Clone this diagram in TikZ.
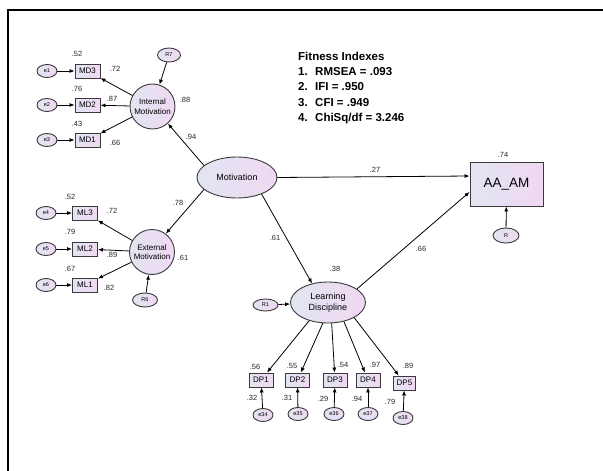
\documentclass[tikz,border=0pt]{standalone}
\usepackage{fontspec}
\setmainfont{Liberation Sans}
\usetikzlibrary{shapes.geometric,arrows.meta,calc}
\definecolor{lb}{HTML}{E2E5F2}
\definecolor{lp}{HTML}{F0D8F2}
\definecolor{bd}{HTML}{3A3A3A}
\begin{document}
\begin{tikzpicture}[x=1pt,y=-1pt,
 every node/.style={inner sep=0pt},
 obs/.style={draw=bd, line width=0.9pt, left color=lb, right color=lp, minimum width=25pt, minimum height=14pt, font=\fontsize{8}{9}\selectfont},
 err/.style={ellipse, draw=bd, line width=0.9pt, left color=lb, right color=lp, minimum width=20pt, minimum height=13pt, font=\fontsize{5.5}{6}\selectfont},
 lat/.style={circle, draw=bd, line width=0.9pt, left color=lb, right color=lp, minimum size=45pt, align=center, font=\fontsize{8}{9.5}\selectfont},
 latel/.style={ellipse, draw=bd, line width=0.9pt, left color=lb, right color=lp, align=center, font=\fontsize{9}{10.5}\selectfont},
 arr/.style={-{Latex[length=5pt,width=4pt]}, line width=0.8pt},
 lbl/.style={font=\fontsize{7.5}{8}\selectfont, text=black!85}
]
\useasboundingbox (0,0) rectangle (603,471);
\draw[line width=2.5pt] (8,471) -- (8,10) -- (603,10);

% fit indexes
\node[anchor=north west, align=left, font=\bfseries\fontsize{11.5}{15.2}\selectfont] (fit) at (298,52)
 {Fitness Indexes\\
 \makebox[17pt][l]{1.}RMSEA = .093\\
 \makebox[17pt][l]{2.}IFI = .950\\
 \makebox[17pt][l]{3.}CFI = .949\\
 \makebox[17pt][l]{4.}ChiSq/df = 3.246};

% latent variables
\node[lat] (IM) at (152.5,106.5) {Internal\\Motivation};
\node[lat] (EM) at (152,252) {External\\Motivation};
\node[latel, minimum width=80pt, minimum height=41pt] (Mot) at (237,177.5) {Motivation};
\node[latel, minimum width=75pt, minimum height=41pt] (LD) at (328,302.5) {Learning\\Discipline};
\node[draw=bd, line width=0.9pt, left color=lb, right color=lp, minimum width=73pt, minimum height=44pt, font=\fontsize{13.5}{15}\selectfont] (AA) at (506.5,184) {AA\_AM};

% residuals
\node[err, minimum width=23pt, minimum height=14pt] (R7) at (169,55) {R7};
\node[err, minimum width=25pt, minimum height=14pt] (R6) at (145,300) {R6};
\node[err, minimum width=25pt, minimum height=12pt] (R1) at (265.5,305) {R1};
\node[err, minimum width=26pt, minimum height=15pt] (R) at (506,235.5) {R};

% internal indicators
\node[obs] (MD3) at (87.5,71) {MD3};
\node[obs] (MD2) at (87.5,105) {MD2};
\node[obs] (MD1) at (87.5,140) {MD1};
\node[err] (e1) at (47,71) {e1};
\node[err] (e2) at (47,105) {e2};
\node[err] (e3) at (47,140) {e3};

% external indicators
\node[obs] (ML3) at (85,213) {ML3};
\node[obs] (ML2) at (85,249) {ML2};
\node[obs] (ML1) at (85,285) {ML1};
\node[err] (e4) at (46,213) {e4};
\node[err] (e5) at (46,249) {e5};
\node[err] (e6) at (46,285) {e6};

% discipline indicators
\node[obs, minimum width=24pt] (DP1) at (261,380) {DP1};
\node[obs, minimum width=24pt] (DP2) at (297.5,380) {DP2};
\node[obs, minimum width=24pt] (DP3) at (335,380) {DP3};
\node[obs, minimum width=24pt] (DP4) at (368,380) {DP4};
\node[obs, minimum width=22pt] (DP5) at (404.5,383) {DP5};
\node[err] (e34) at (263,415) {e34};
\node[err] (e35) at (298,414) {e35};
\node[err] (e36) at (334,414) {e36};
\node[err] (e37) at (368,414) {e37};
\node[err] (e38) at (403,418) {e38};

% arrows
\foreach \a/\b in {e1/MD3,e2/MD2,e3/MD1,e4/ML3,e5/ML2,e6/ML1,IM/MD3,IM/MD2,IM/MD1,EM/ML3,EM/ML2,EM/ML1,R7/IM,R6/EM,R1/LD,R/AA,e34/DP1,e35/DP2,e36/DP3,e37/DP4,e38/DP5}
  \draw[arr] (\a) -- (\b);
\draw[arr] (Mot.160) -- (IM.-48);
\draw[arr] (Mot.-160) -- (EM.53);
\draw[arr] (LD.-136) -- (DP1);
\draw[arr] (LD.-104) -- (DP2);
\draw[arr] (LD.-80) -- (DP3);
\draw[arr] (LD.-50) -- (DP4);
\draw[arr] (LD.-30) -- (DP5);
\draw[arr] (Mot.east) -- ($(AA.west)+(0,-8)$);
\draw[arr] (Mot.-34) -- (LD.130);
\draw[arr] (LD.25) -- ($(AA.west)+(0,8)$);

% labels
\node[lbl] (l1) at (77,54) {.52};
\node[lbl] (l2) at (115,69) {.72};
\node[lbl] (l3) at (77,89) {.76};
\node[lbl] (l4) at (112,99) {.87};
\node[lbl] (l5) at (77,124) {.43};
\node[lbl] (l6) at (115,143) {.66};
\node[lbl] (l7) at (185,100) {.88};
\node[lbl] (l8) at (191,137) {.94};
\node[lbl] (l9) at (178,203) {.78};
\node[lbl] (l10) at (183,258) {.61};
\node[lbl] (l11) at (70,197) {.52};
\node[lbl] (l12) at (112,211) {.72};
\node[lbl] (l13) at (70,232) {.79};
\node[lbl] (l14) at (112,255) {.89};
\node[lbl] (l15) at (70,269) {.67};
\node[lbl] (l16) at (109,288) {.82};
\node[lbl] (l17) at (375,170) {.27};
\node[lbl] (l18) at (275,238) {.61};
\node[lbl] (l19) at (503,155) {.74};
\node[lbl] (l20) at (335,269) {.38};
\node[lbl] (l21) at (421,249) {.66};
\node[lbl] (l22) at (255,367) {.56};
\node[lbl] (l23) at (292,366) {.55};
\node[lbl] (l24) at (343,365) {.54};
\node[lbl] (l25) at (375,365) {.97};
\node[lbl] (l26) at (408,366) {.89};
\node[lbl] (l27) at (252,398) {.32};
\node[lbl] (l28) at (287,398) {.31};
\node[lbl] (l29) at (323,399) {.29};
\node[lbl] (l30) at (357,399) {.94};
\node[lbl] (l31) at (390,402) {.79};
\end{tikzpicture}
\end{document}
